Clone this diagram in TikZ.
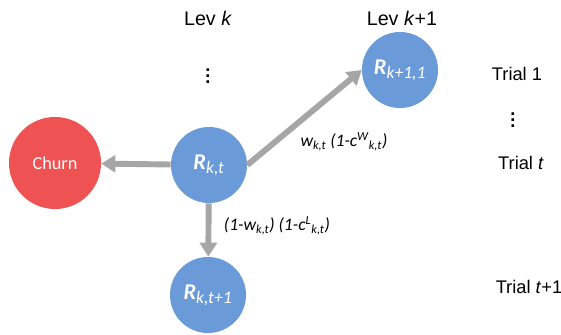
\documentclass[tikz,border=0pt]{standalone}
\usepackage{fontspec}
\setmainfont{Carlito}
\newfontfamily\arialish{Liberation Sans}
\usetikzlibrary{arrows.meta}

\definecolor{lvblue}{RGB}{106,155,216}
\definecolor{churnred}{RGB}{238,82,82}
\definecolor{arrgray}{RGB}{166,166,166}

\begin{document}
\begin{tikzpicture}[x=0.025cm, y=-0.025cm, >={Triangle[length=10pt,width=12pt]},
	level/.style={circle, fill=lvblue, minimum size=1.9cm, inner sep=0pt, text=white, font=\fontsize{16}{16}\selectfont\bfseries\itshape},
	churn/.style={circle, fill=churnred, minimum size=2.3cm, inner sep=0pt, text=white, font=\fontsize{13}{13}\selectfont},
	move/.style={->, draw=arrgray, line width=4.2pt, color=arrgray},
	prob/.style={font=\fontsize{12.5}{13}\selectfont\itshape, text=black},
	head/.style={font=\arialish\fontsize{14}{14}\selectfont},
	trial/.style={font=\arialish\fontsize{13}{13}\selectfont}]
	\useasboundingbox (0,0) rectangle (561,335);
	
	% Nodes {churn, r_kt, r_next, r_down}
	\node [churn] 	(churn)		at (55,163)		{Churn};
	\node [level] 	(rkt)		at (209,165)	{R\textsubscript{\normalfont\itshape\fontsize{12.5}{13}\selectfont k,t}};
	\node [level] 	(rnext)		at (400,70)		{R\textsubscript{\normalfont\itshape\fontsize{12.5}{13}\selectfont k+1,1}};
	\node [level] 	(rdown)		at (208,295)	{R\textsubscript{\normalfont\itshape\fontsize{12.5}{13}\selectfont k,t+1}};
	
	% Headers and trials
	\node [head]	(levk)		at (208,18)		{Lev \textit{k}};
	\node [head]	(levk1)		at (402,18)		{Lev \textit{k}+1};
	\node [trial]	(vdots1)	at (208,72)		{\bfseries\vdots};
	\node [trial]	(trial1)	at (517,74)		{Trial 1};
	\node [trial]	(vdots2)	at (513,116)	{\bfseries\vdots};
	\node [trial]	(trialt)	at (521,163)	{Trial \textit{t}};
	\node [trial]	(trialt1)	at (529,287)	{Trial \textit{t}+1};
	
	% Paths
	\draw [move]	(rkt) -- (churn);
	\draw [move]	(rkt.east) -- (rnext.west);
	\draw [move]	(rkt) -- (rdown);
	
	% Probabilities
	\node [prob]	(pwin)		at (344,142)	{w\textsubscript{k,t} (1-c\textsuperscript{W}\textsubscript{k,t})};
	\node [prob]	(plose)		at (277,226)	{(1-w\textsubscript{k,t}) (1-c\textsuperscript{L}\textsubscript{k,t})};
	
\end{tikzpicture}
\end{document}
